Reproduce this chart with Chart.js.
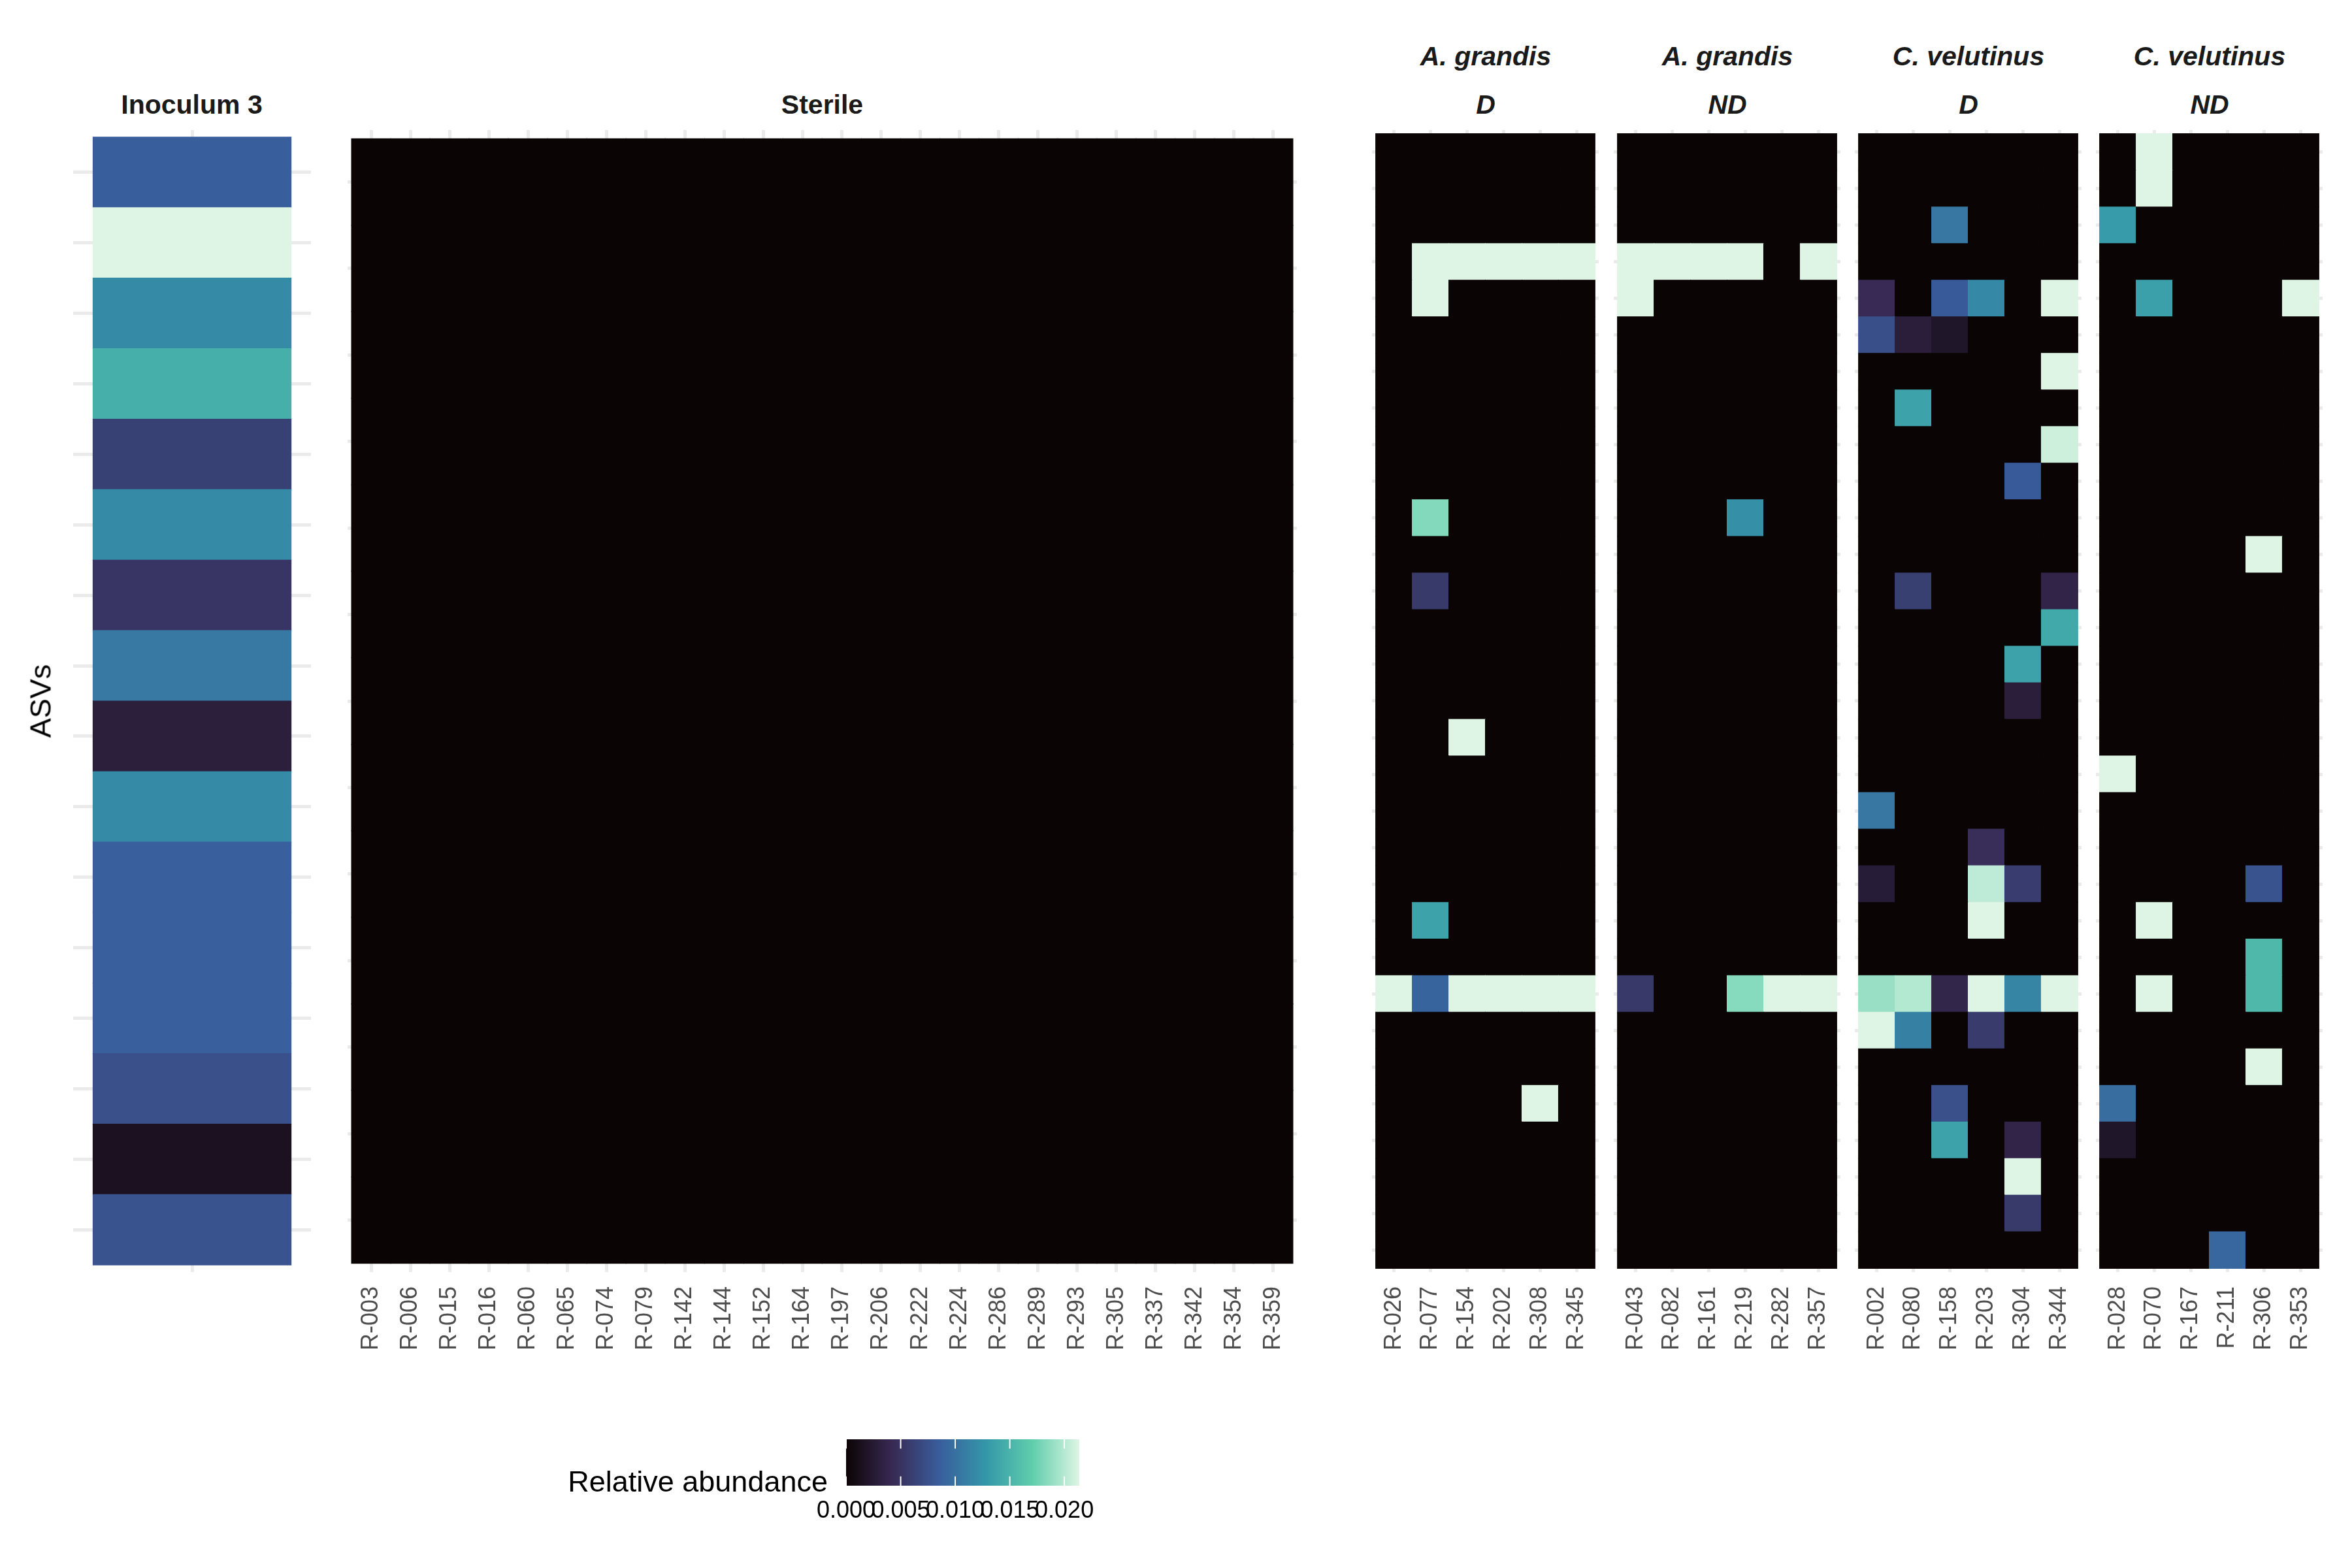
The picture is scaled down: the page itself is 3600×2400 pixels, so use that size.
<!DOCTYPE html>
<html>
<head>
<meta charset="utf-8">
<script src="https://cdn.jsdelivr.net/npm/chart.js@4.4.1/dist/chart.umd.min.js"></script>
<style>
html,body{margin:0;padding:0;background:#ffffff;}
body{width:3600px;height:2400px;position:relative;overflow:hidden;font-family:"Liberation Sans",Arial,Helvetica,sans-serif;}
canvas{position:absolute;}
.t{position:absolute;white-space:nowrap;line-height:1;}
</style>
</head>
<body>
<script>
// ---------------- DATA ----------------
const scaleMax = 0.02137;                       // top of the colour scale
const legendTicks = [0.000, 0.005, 0.010, 0.015, 0.020];

// Inoculum 3 : one column, 16 ASVs (top to bottom)
const inoculumSamples = [''];
const inoculumValues = [0.0086, 0.0214, 0.0119, 0.0147, 0.0062, 0.0119, 0.0052, 0.0106,
                        0.0030, 0.0119, 0.0088, 0.0088, 0.0088, 0.0075, 0.0015, 0.0077];

// Sterile : 24 samples, 13 ASVs, all zero
const sterileSamples = ['R-003','R-006','R-015','R-016','R-060','R-065','R-074','R-079',
                        'R-142','R-144','R-152','R-164','R-197','R-206','R-222','R-224',
                        'R-286','R-289','R-293','R-305','R-337','R-342','R-354','R-359'];
const sterileRowCount = 13;
const sterileCells = [];

// Plant panels : 31 ASVs each; non-zero cells as [row, column, relative abundance]
const plantRowCount = 31;
const agDSamples  = ['R-026','R-077','R-154','R-202','R-308','R-345'];
const agNDSamples = ['R-043','R-082','R-161','R-219','R-282','R-357'];
const cvDSamples  = ['R-002','R-080','R-158','R-203','R-304','R-344'];
const cvNDSamples = ['R-028','R-070','R-167','R-211','R-306','R-353'];

const agDCells = [
  [3,1,0.0214],[3,2,0.0214],[3,3,0.0214],[3,4,0.0214],[3,5,0.0214],
  [4,1,0.0214],
  [10,1,0.0183],
  [12,1,0.0056],
  [16,2,0.0214],
  [21,1,0.0137],
  [23,0,0.0214],[23,1,0.0091],[23,2,0.0214],[23,3,0.0214],[23,4,0.0214],[23,5,0.0214],
  [26,4,0.0214]
];
const agNDCells = [
  [3,0,0.0214],[3,1,0.0214],[3,2,0.0214],[3,3,0.0214],[3,5,0.0214],
  [4,0,0.0214],
  [10,3,0.0123],
  [23,0,0.0055],[23,3,0.0184],[23,4,0.0214],[23,5,0.0214]
];
const cvDCells = [
  [2,2,0.0105],
  [4,0,0.0043],[4,2,0.0083],[4,3,0.0117],[4,5,0.0214],
  [5,0,0.0074],[5,1,0.0029],[5,2,0.0020],
  [6,5,0.0214],
  [7,1,0.0137],
  [8,5,0.0208],
  [9,4,0.0083],
  [12,1,0.0060],[12,5,0.0036],
  [13,5,0.0142],
  [14,4,0.0137],
  [15,4,0.0029],
  [18,0,0.0105],
  [19,3,0.0046],
  [20,0,0.0027],[20,3,0.0203],[20,4,0.0058],
  [21,3,0.0214],
  [23,0,0.0190],[23,1,0.0199],[23,2,0.0038],[23,3,0.0214],[23,4,0.0115],[23,5,0.0214],
  [24,0,0.0214],[24,1,0.0111],[24,3,0.0057],
  [26,2,0.0075],
  [27,2,0.0137],[27,4,0.0036],
  [28,4,0.0214],
  [29,4,0.0056]
];
const cvNDCells = [
  [0,1,0.0214],[1,1,0.0214],
  [2,0,0.0131],
  [4,1,0.0135],[4,5,0.0214],
  [11,4,0.0214],
  [17,0,0.0214],
  [20,4,0.0077],
  [21,1,0.0214],
  [22,4,0.0154],
  [23,1,0.0214],[23,4,0.0154],
  [25,4,0.0214],
  [26,0,0.0097],
  [27,0,0.0020],
  [30,3,0.0092]
];

// ---------------- COLOUR MAP (mako) ----------------
const MAKO = ['#0B0405','#382A54','#395D9C','#3497A9','#60CEAC','#DEF5E5'];
function hexRgb(h){ return [parseInt(h.slice(1,3),16),parseInt(h.slice(3,5),16),parseInt(h.slice(5,7),16)]; }
const MAKO_RGB = MAKO.map(hexRgb);
function mako(v){
  const t = Math.max(0, Math.min(1, v / scaleMax));
  const n = MAKO_RGB.length - 1;
  const p = t * n;
  const i = Math.min(n - 1, Math.floor(p));
  const f = p - i;
  const a = MAKO_RGB[i], b = MAKO_RGB[i+1];
  const c = a.map((x,k) => Math.round(x + (b[k]-x)*f));
  return 'rgb(' + c.join(',') + ')';
}

// ---------------- LAYOUT ----------------
const FONT = '"Liberation Sans", Arial, Helvetica, sans-serif';
Chart.defaults.font.family = FONT;
const PANEL_TOP = 199, PANEL_H = 1748, XAXIS_H = 160, PADX = 40;

function cellsToLookup(cells){
  const m = {};
  cells.forEach(([r,c,v]) => { m[r + '_' + c] = v; });
  return (r,c) => m[r + '_' + c] || 0;
}

const panels = [
  {samples: inoculumSamples, rows: inoculumValues.length, tileLeft: 142, cw: 303, value: (r) => inoculumValues[r]},
  {samples: sterileSamples, rows: sterileRowCount, tileLeft: 538, cw: 60.04, value: cellsToLookup(sterileCells)},
  {samples: agDSamples,  rows: plantRowCount, tileLeft: 2106, cw: 56, value: cellsToLookup(agDCells)},
  {samples: agNDSamples, rows: plantRowCount, tileLeft: 2476, cw: 56, value: cellsToLookup(agNDCells)},
  {samples: cvDSamples,  rows: plantRowCount, tileLeft: 2845, cw: 56, value: cellsToLookup(cvDCells)},
  {samples: cvNDSamples, rows: plantRowCount, tileLeft: 3214, cw: 56, value: cellsToLookup(cvNDCells)}
];

function makePanel(p){
  const ncol = p.samples.length;
  const areaW = Math.round((ncol + 0.2) * p.cw);
  const areaL = Math.round(p.tileLeft - 0.1 * p.cw);
  const cv = document.createElement('canvas');
  cv.width = areaW + 2 * PADX;
  cv.height = PANEL_H + XAXIS_H;
  cv.style.left = (areaL - PADX) + 'px';
  cv.style.top = PANEL_TOP + 'px';
  document.body.appendChild(cv);

  const cells = [];
  for (let r = 0; r < p.rows; r++)
    for (let c = 0; c < ncol; c++)
      cells.push({x: c, y: [r - 0.5, r + 0.5], v: p.value(r, c)});

  new Chart(cv, {
    type: 'bar',
    data: { datasets: [{
      data: cells,
      backgroundColor: cells.map(d => mako(d.v)),
      borderWidth: 0,
      inflateAmount: 0.5,
      barPercentage: 1,
      categoryPercentage: ncol === 1 ? 1 / 1.2 : 1
    }]},
    options: {
      responsive: false, maintainAspectRatio: false, animation: false, devicePixelRatio: 1,
      events: [],
      layout: { padding: { left: PADX, right: PADX, top: 0, bottom: 0 } },
      plugins: { legend: { display: false }, tooltip: { enabled: false }, title: { display: false } },
      scales: {
        x: {
          type: 'linear', min: -0.6, max: ncol - 0.4, bounds: 'data', offset: false,
          afterBuildTicks: s => { s.ticks = p.samples.map((_, i) => ({value: i})); },
          afterFit: s => { s.height = XAXIS_H; },
          grid: { color: '#EBEBEB', lineWidth: 5, drawTicks: false, offset: false },
          border: { display: false },
          ticks: { autoSkip: false, minRotation: 90, maxRotation: 90, padding: 22,
                   color: '#4D4D4D', font: { family: FONT, size: 36 },
                   callback: (v) => (p.samples[v] !== undefined ? p.samples[v] : '') }
        },
        y: {
          type: 'linear', reverse: true, min: -0.6, max: p.rows - 0.4, bounds: 'data', offset: false,
          afterBuildTicks: s => { s.ticks = Array.from({length: p.rows}, (_, i) => ({value: i})); },
          afterFit: s => { s.width = 0; },
          grid: { color: '#EBEBEB', lineWidth: 5, drawTicks: false, offset: false },
          border: { display: false },
          ticks: { display: false }
        }
      }
    }
  });
}
panels.forEach(makePanel);

// ---------------- COLOUR BAR LEGEND ----------------
const CB_LEFT = 1293, CB_TOP = 2203, CB_W = 359, CB_H = 71, CB_PAD = 60, CB_AX = 80;
const cbCanvas = document.createElement('canvas');
cbCanvas.width = CB_W + 2 * CB_PAD;
cbCanvas.height = CB_H + CB_AX;
cbCanvas.style.left = (CB_LEFT - CB_PAD) + 'px';
cbCanvas.style.top = CB_TOP + 'px';
document.body.appendChild(cbCanvas);

const cbTickPlugin = {
  id: 'cbTicks',
  afterDatasetsDraw(chart){
    const {ctx, chartArea: a} = chart;
    const xs = chart.scales.x;
    ctx.save();
    ctx.strokeStyle = '#ffffff';
    ctx.lineWidth = 2;
    legendTicks.forEach(v => {
      const px = xs.getPixelForValue(v);
      ctx.beginPath();
      ctx.moveTo(px, a.top); ctx.lineTo(px, a.top + a.height / 5);
      ctx.moveTo(px, a.bottom); ctx.lineTo(px, a.bottom - a.height / 5);
      ctx.stroke();
    });
    ctx.restore();
  }
};

new Chart(cbCanvas, {
  type: 'bar',
  data: { labels: [''], datasets: [{
    data: [[0, scaleMax]],
    borderWidth: 0, barPercentage: 1, categoryPercentage: 1,
    backgroundColor: (ctx) => {
      const a = ctx.chart.chartArea;
      if (!a) return MAKO[2];
      const g = ctx.chart.ctx.createLinearGradient(a.left, 0, a.right, 0);
      MAKO.forEach((c, i) => g.addColorStop(i / (MAKO.length - 1), c));
      return g;
    }
  }]},
  options: {
    indexAxis: 'y',
    responsive: false, maintainAspectRatio: false, animation: false, devicePixelRatio: 1,
    events: [],
    layout: { padding: { left: CB_PAD, right: CB_PAD, top: 0, bottom: 0 } },
    plugins: { legend: { display: false }, tooltip: { enabled: false } },
    scales: {
      x: {
        type: 'linear', min: 0, max: scaleMax, bounds: 'data',
        afterBuildTicks: s => { s.ticks = legendTicks.map(v => ({value: v})); },
        afterFit: s => { s.height = CB_AX; },
        grid: { display: false, drawTicks: false },
        border: { display: false },
        ticks: { autoSkip: false, maxRotation: 0, minRotation: 0, padding: 17,
                 color: '#000000', font: { family: FONT, size: 36 },
                 callback: (v) => Number(v).toFixed(3) }
      },
      y: { display: false }
    }
  },
  plugins: [cbTickPlugin]
});

// ---------------- TEXT ----------------
function addText(txt, x, baseline, size, o){
  o = o || {};
  const d = document.createElement('div');
  d.className = 't';
  d.textContent = txt;
  d.style.fontSize = size + 'px';
  d.style.fontWeight = o.weight || 'normal';
  d.style.fontStyle = o.style || 'normal';
  d.style.color = o.color || '#000000';
  d.style.top = (baseline - 0.8465 * size) + 'px';
  if (o.align === 'right') { d.style.right = (3600 - x) + 'px'; }
  else { d.style.left = x + 'px'; d.style.transform = 'translateX(-50%)'; }
  document.body.appendChild(d);
}
const STRIP = 41, STRIP_COL = '#1A1A1A';
addText('Inoculum 3', 293.5, 175, STRIP, {weight: 'bold', color: STRIP_COL});
addText('Sterile', 1258.5, 175, STRIP, {weight: 'bold', color: STRIP_COL});
const plantStrips = [
  ['A. grandis', 'D', 2274], ['A. grandis', 'ND', 2644],
  ['C. velutinus', 'D', 3013], ['C. velutinus', 'ND', 3382]
];
plantStrips.forEach(([sp, st, cx]) => {
  addText(sp, cx, 101, STRIP, {weight: 'bold', style: 'italic', color: STRIP_COL});
  addText(st, cx, 175, STRIP, {weight: 'bold', style: 'italic', color: STRIP_COL});
});
addText('Relative abundance', 1267, 2283, 45, {align: 'right'});

const yTitle = document.createElement('div');
yTitle.className = 't';
yTitle.textContent = 'ASVs';
yTitle.style.fontSize = '45px';
yTitle.style.color = '#000000';
yTitle.style.left = '62px';
yTitle.style.top = '1073px';
yTitle.style.transform = 'translate(-50%,-50%) rotate(-90deg)';
document.body.appendChild(yTitle);
</script>
</body>
</html>
